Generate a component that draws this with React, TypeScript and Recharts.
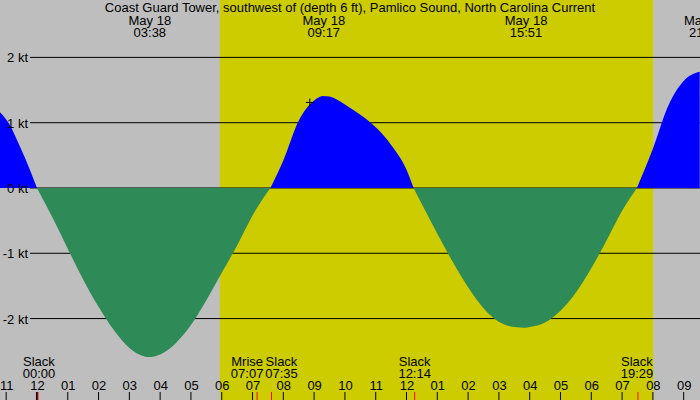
import React from "react";
import { ComposedChart, Area, Line, XAxis, YAxis, ReferenceArea, ReferenceDot } from "recharts";

// hours after local midnight, May 18
const hours = [
  -1.2, -0.9, -0.55, -0.23, 0, 0.5, 1.0, 1.5, 2.0, 2.5, 3.0, 3.5, 3.63, 4.0, 4.5, 5.0, 5.5, 6.0, 6.5, 7.0,
  7.58, 8.0, 8.5, 9.0, 9.28, 9.5, 10.0, 10.5, 11.0, 11.5, 12.0, 12.23, 12.5, 13.0, 13.5, 14.0, 14.5,
  15.0, 15.5, 15.85, 16.0, 16.5, 17.0, 17.5, 18.0, 18.5, 19.0, 19.48, 20.0, 20.5, 21.0, 21.52,
];
// current speed in knots (+ flood, - ebb)
const knots = [
  1.16, 0.98, 0.63, 0.28, 0, -0.45, -0.93, -1.4, -1.82, -2.18, -2.45, -2.58, -2.59, -2.55, -2.38, -2.1,
  -1.72, -1.3, -0.88, -0.42, 0, 0.42, 1.03, 1.34, 1.41, 1.4, 1.28, 1.12, 0.93, 0.66, 0.28, 0, -0.25,
  -0.7, -1.13, -1.52, -1.84, -2.05, -2.13, -2.14, -2.13, -2.06, -1.88, -1.6, -1.23, -0.8, -0.35, 0,
  0.6, 1.26, 1.64, 1.78,
];

const hourTicks = [-1, 0, 1, 2, 3, 4, 5, 6, 7, 8, 9, 10, 11, 12, 13, 14, 15, 16, 17, 18, 19, 20, 21];
const knotTicks = [-2, -1, 0, 1, 2];

const sunrise = 5.94;
const sunset = 20.01;

// max / min current, shown along the top
const peakTimes = [3.633, 9.283, 15.85, 21.67];
const peakLabels = ["03:38", "09:17", "15:51", "21:40"];

// slacks and moonrise, shown along the bottom
const eventTimes = [0, 7.117, 7.583, 12.233, 19.483];
const eventNames = ["Slack", "Mrise", "Slack", "Slack", "Slack"];
const eventLabels = ["00:00", "07:07", "07:35", "12:14", "19:29"];
const eventNudge = [2, -9, 11, 1, 0];

const nowMark = { t: 8.86, v: 1.31 };

const TITLE = "Coast Guard Tower, southwest of (depth 6 ft), Pamlico Sound, North Carolina Current";
const FONT = "'Liberation Sans', Arial, sans-serif";
const X_MIN = -1.2;
const X_MAX = 21.53;
const Y_DOMAIN = [-3.247, 2.879];
const GRID_START = -0.227; // grid lines begin just right of the kt labels

const data = hours.map((t, i) => ({
  t,
  flood: knots[i] >= 0 ? knots[i] : null,
  ebb: knots[i] <= 0 ? knots[i] : null,
}));

const hourText = (h: number) => {
  const v = ((h % 12) + 12) % 12;
  return String(v === 0 ? 12 : v).padStart(2, "0");
};

const layer: React.CSSProperties = { position: "absolute", left: 0, top: 0 };
const margin = { top: 0, right: 0, bottom: 0, left: 0 };

// day shading and grid lines, drawn behind the current
function Backdrop() {
  return (
    <ComposedChart width={700} height={400} data={data} margin={margin}>
      <XAxis dataKey="t" type="number" domain={[X_MIN, X_MAX]} allowDataOverflow hide />
      <YAxis type="number" domain={Y_DOMAIN} allowDataOverflow hide />
      <ReferenceArea x1={sunrise} x2={sunset} fill="#cccc00" fillOpacity={1} stroke="none" />
      {knotTicks.map((v) => (
        <Line
          key={"g" + v}
          data={[
            { t: GRID_START, g: v },
            { t: X_MAX, g: v },
          ]}
          dataKey="g"
          type="linear"
          stroke="#000"
          strokeWidth={1}
          dot={false}
          activeDot={false}
          isAnimationActive={false}
          legendType="none"
        />
      ))}
    </ComposedChart>
  );
}

export default function App() {
  return (
    <div style={{ ...layer, width: 700, height: 400, background: "#bebebe" }}>
      <div style={layer}>
        <Backdrop />
      </div>
      <div style={layer}>
        <ComposedChart width={700} height={400} data={data} margin={margin}>
          <XAxis dataKey="t" type="number" domain={[X_MIN, X_MAX]} allowDataOverflow hide />
          <YAxis type="number" domain={Y_DOMAIN} allowDataOverflow hide />
          <Area
            dataKey="flood"
            type="monotone"
            baseValue={0}
            fill="#0000ff"
            fillOpacity={1}
            stroke="none"
            isAnimationActive={false}
            dot={false}
            activeDot={false}
          />
          <Area
            dataKey="ebb"
            type="monotone"
            baseValue={0}
            fill="#2e8b57"
            fillOpacity={1}
            stroke="none"
            isAnimationActive={false}
            dot={false}
            activeDot={false}
          />
          {knotTicks.map((v) => (
            <ReferenceDot
              key={"k" + v}
              x={X_MIN}
              y={v}
              ifOverflow="visible"
              shape={(p: any) => (
                <text x={p.cx + 28} y={p.cy + 5} textAnchor="end" fontSize={13} fill="#000" fontFamily={FONT}>
                  {v} kt
                </text>
              )}
            />
          ))}
          {hourTicks.map((h) => (
            <ReferenceDot
              key={"h" + h}
              x={h}
              y={0}
              ifOverflow="visible"
              shape={(p: any) => (
                <g>
                  <line x1={p.cx} x2={p.cx} y1={392} y2={400} stroke="#000" strokeWidth={h === 0 ? 2 : 1} />
                  <text x={p.cx + 0.5} y={390} textAnchor="middle" fontSize={13} fill="#000" fontFamily={FONT}>
                    {hourText(h)}
                  </text>
                </g>
              )}
            />
          ))}
          <ReferenceDot
            x={nowMark.t}
            y={nowMark.v}
            ifOverflow="visible"
            shape={(p: any) => (
              <g stroke="#000" strokeWidth={1}>
                <line x1={p.cx - 4} x2={p.cx + 4} y1={p.cy} y2={p.cy} />
                <line x1={p.cx} x2={p.cx} y1={p.cy - 4} y2={p.cy + 4} />
              </g>
            )}
          />
          {peakTimes.map((t, i) => (
            <ReferenceDot
              key={"p" + i}
              x={t}
              y={0}
              ifOverflow="visible"
              shape={(p: any) => (
                <g fontFamily={FONT} fontSize={13} fill="#000" textAnchor="middle">
                  <text x={p.cx + 1} y={25}>May 18</text>
                  <text x={p.cx + 1} y={37}>{peakLabels[i]}</text>
                </g>
              )}
            />
          ))}
          {eventTimes.map((t, i) => (
            <ReferenceDot
              key={"e" + i}
              x={t}
              y={0}
              ifOverflow="visible"
              shape={(p: any) => (
                <g>
                  <line x1={p.cx + 1} x2={p.cx + 1} y1={392} y2={400} stroke="#ff0000" strokeWidth={1} />
                  <g fontFamily={FONT} fontSize={13} fill="#000" textAnchor="middle">
                    <text x={p.cx + eventNudge[i]} y={366}>{eventNames[i]}</text>
                    <text x={p.cx + eventNudge[i]} y={378}>{eventLabels[i]}</text>
                  </g>
                </g>
              )}
            />
          ))}
        </ComposedChart>
      </div>
      <div
        style={{
          ...layer,
          width: 700,
          textAlign: "center",
          fontFamily: FONT,
          fontSize: 13,
          lineHeight: "15px",
          color: "#000",
        }}
      >
        {TITLE}
      </div>
    </div>
  );
}
